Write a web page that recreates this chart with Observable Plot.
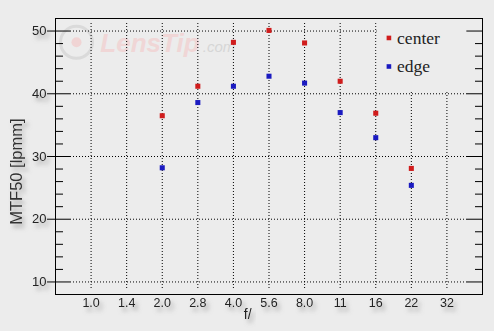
<!DOCTYPE html>
<html><head><meta charset="utf-8">
<script src="https://cdn.jsdelivr.net/npm/d3@7"></script>
<script src="https://cdn.jsdelivr.net/npm/@observablehq/plot@0.6"></script>
<style>
html,body{margin:0;padding:0;background:#ececec;}
svg{display:block;}
</style></head><body><div id="chart"></div>
<script>
const apertures = ["1.0","1.4","2.0","2.8","4.0","5.6","8.0","11","16","22","32"];
const measured = ["2.0","2.8","4.0","5.6","8.0","11","16","22"];
const centerValues = [36.5, 41.2, 48.2, 50.1, 48.1, 42.0, 36.9, 28.1];
const edgeValues = [28.2, 38.6, 41.2, 42.8, 41.7, 37.0, 33.0, 25.4];
const seriesNames = ["center", "edge"];
const seriesColors = ["#d01c1c", "#1a1ac0"];
const yMajor = [10, 20, 30, 40, 50];
const yMinor = [12,14,16,18,22,24,26,28,32,34,36,38,42,44,46,48];
const yTitle = "MTF50 [lpmm]";
const xTitle = "f/";

const pos = a => apertures.indexOf(a) + 1;
const rows = [
  ...measured.map((a, i) => ({a, v: centerValues[i], s: "center"})),
  ...measured.map((a, i) => ({a, v: edgeValues[i], s: "edge"}))
];
const legendRows = seriesNames.map((s, i) => ({s, y: [48.9, 44.35][i]}));
const bg = "#ececec";
const dot = "1,2";

const plot = Plot.plot({
  width: 494, height: 331,
  marginLeft: 55, marginRight: 12, marginTop: 18, marginBottom: 37,
  style: {background: bg, fontFamily: "'Liberation Sans', Arial, sans-serif", color: "#222", overflow: "visible"},
  x: {type: "linear", domain: [0, 12], axis: null},
  y: {domain: [8, 52], axis: null},
  color: {domain: seriesNames, range: seriesColors},
  marks: [
    // watermark
    Plot.dot([0], {x: () => 0.59, y: () => 48.2, r: 16, stroke: "#dadada", strokeWidth: 3, fill: "none"}),
    Plot.dot([0], {x: () => 0.59, y: () => 48.2, r: 5, fill: "#f0d4d4"}),
    Plot.text(["LensTip"], {x: () => 1.26, y: () => 46.6, text: d => d, textAnchor: "start", lineAnchor: "bottom", fontSize: 26, fontWeight: "bold", fontStyle: "italic", fill: "#f0d6d6"}),
    Plot.text([".com"], {x: () => 4.14, y: () => 46.6, text: d => d, textAnchor: "start", lineAnchor: "bottom", fontSize: 15, fontStyle: "italic", fill: "#d6d6d6"}),
    // grid
    Plot.ruleY(yMajor, {y: d => d, insetLeft: 15, insetRight: 15, stroke: "#000", strokeDasharray: dot}),
    Plot.ruleX(apertures, {x: pos, insetTop: 5, insetBottom: 4, stroke: "#000", strokeDasharray: dot}),
    // legend box
    Plot.rect([0], {x1: () => 9.04, x2: () => 11.56, y1: () => 40.2, y2: () => 51.9, fill: bg}),
    // ticks
    Plot.tickY(yMajor, {y: d => d, insetRight: 412, stroke: "#000"}),
    Plot.tickY(yMajor, {y: d => d, insetLeft: 412, stroke: "#000"}),
    Plot.tickY(yMinor, {y: d => d, insetRight: 419, stroke: "#000"}),
    Plot.tickY(yMinor, {y: d => d, insetLeft: 420, stroke: "#000"}),
    Plot.axisY(yMajor, {tickSize: 8, tickPadding: 1, fontSize: 13, label: null, stroke: "#000"}),
    Plot.axisX(d3.range(1, 12), {tickSize: 0, tickPadding: 4, fontSize: 12.5, tickFormat: i => apertures[i - 1], label: null}),
    Plot.frame({stroke: "#000"}),
    // titles
    Plot.text([xTitle], {x: () => 5.4, frameAnchor: "bottom", dy: 24, text: d => d, fontSize: 14, fill: "#222", className: "shadowed"}),
    Plot.text([yTitle], {y: () => 27.6, frameAnchor: "left", textAnchor: "middle", dx: -39, rotate: -90, text: d => d, fontSize: 16.5, fill: "#333", className: "shadowed", style: "letter-spacing:1.1px"}),
    // data
    Plot.dot(rows, {x: d => pos(d.a), y: "v", fill: "s", symbol: "square", r: 2.85}),
    // legend
    Plot.dot(legendRows, {x: () => 9.37, y: "y", fill: "s", symbol: "square", r: 2.6}),
    Plot.text(legendRows, {x: () => 9.6, y: "y", text: "s", textAnchor: "start", fontSize: 17.5, fontFamily: "'Liberation Serif', 'Times New Roman', serif", fill: "#222"})
  ]
});

const ns = "http://www.w3.org/2000/svg";
const defs = document.createElementNS(ns, "defs");
defs.innerHTML = '<filter id="sh" x="-30%" y="-30%" width="180%" height="200%"><feDropShadow dx="3" dy="4" stdDeviation="2" flood-color="#7a7a7a" flood-opacity="0.65"/></filter>';
plot.insertBefore(defs, plot.firstChild);
plot.querySelectorAll('g[aria-label$="tick label"], g.shadowed').forEach(g => g.setAttribute("filter", "url(#sh)"));
document.getElementById("chart").appendChild(plot);
</script>
</body></html>
